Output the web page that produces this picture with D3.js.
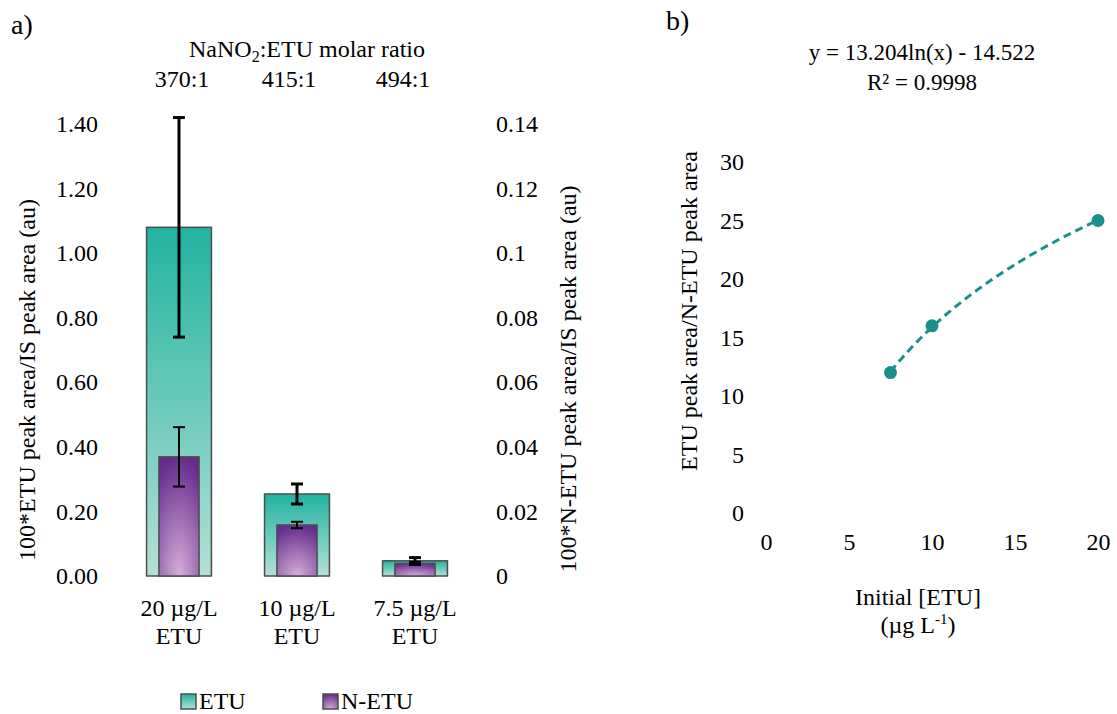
<!DOCTYPE html>
<html>
<head>
<meta charset="utf-8">
<script src="https://cdn.jsdelivr.net/npm/d3@7"></script>
<style>
  body { margin: 0; background: #fff; }
  text { font-family: "Liberation Serif", "Tinos", "Times New Roman", "DejaVu Serif", serif; fill: #000; }
</style>
</head>
<body>
<div id="chart"></div>
<script>
// ---- data (panel a) ----
const categories = ["20 µg/L", "10 µg/L", "7.5 µg/L"];
const ratios = ["370:1", "415:1", "494:1"];
const etuValues = [1.08, 0.254, 0.047];
const etuErrors = [0.34, 0.031, 0.01];
const netuValues = [0.0369, 0.0158, 0.0039];
const netuErrors = [0.0092, 0.001, 0.0005];
const leftTicks = [0, 0.2, 0.4, 0.6, 0.8, 1.0, 1.2, 1.4];
const rightTicks = [0, 0.02, 0.04, 0.06, 0.08, 0.1, 0.12, 0.14];

// ---- data (panel b) ----
const concX = [7.5, 10, 20];
const ratioY = [12.0, 16.0, 25.0];
const fitA = 13.204, fitB = -14.522; // y = a ln(x) + b
const bXTicks = [0, 5, 10, 15, 20];
const bYTicks = [0, 5, 10, 15, 20, 25, 30];

const FONT = '"Liberation Serif", "Tinos", "Times New Roman", "DejaVu Serif", serif';

const W = 1117, H = 714;
const svg = d3.select("#chart").append("svg")
    .attr("width", W).attr("height", H)
    .attr("font-family", FONT);

const defs = svg.append("defs");
const gEtu = defs.append("linearGradient").attr("id", "gEtu")
    .attr("x1", 0).attr("y1", 0).attr("x2", 0).attr("y2", 1);
gEtu.append("stop").attr("offset", "0%").attr("stop-color", "#21b3a1");
gEtu.append("stop").attr("offset", "100%").attr("stop-color", "#b3e0d6");

const gNetu = defs.append("radialGradient").attr("id", "gNetu")
    .attr("cx", "50%").attr("cy", "100%").attr("r", "100%");
gNetu.append("stop").attr("offset", "0%").attr("stop-color", "#d6aed8");
gNetu.append("stop").attr("offset", "100%").attr("stop-color", "#652c8d");

// ================= Panel a =================
const a = { left: 120, right: 474, top: 124, bottom: 576 };

const x = d3.scaleBand()
    .domain(categories)
    .range([a.left, a.right])
    .padding(0);

const yL = d3.scaleLinear().domain([0, 1.4]).range([a.bottom, a.top]);
const yR = d3.scaleLinear().domain([0, 0.14]).range([a.bottom, a.top]);

// left axis
const axL = svg.append("g")
    .attr("transform", `translate(${a.left - 14},0)`)
    .call(d3.axisLeft(yL).tickValues(leftTicks).tickFormat(d3.format(".2f")).tickSize(0).tickPadding(8));
axL.select(".domain").remove();
axL.attr("font-family", FONT).attr("font-size", 24);

// right axis
const axR = svg.append("g")
    .attr("transform", `translate(${a.right + 14},0)`)
    .call(d3.axisRight(yR).tickValues(rightTicks).tickFormat(d => d === 0 ? "0" : String(+d.toFixed(2))).tickSize(0).tickPadding(8));
axR.select(".domain").remove();
axR.attr("font-family", FONT).attr("font-size", 24);

// ETU bars
const etuW = x.bandwidth() * 0.55;
svg.selectAll(".etu")
    .data(categories)
    .enter().append("rect")
    .attr("class", "etu")
    .attr("x", (d) => x(d) + (x.bandwidth() - etuW) / 2)
    .attr("width", etuW)
    .attr("y", (d, i) => yL(etuValues[i]))
    .attr("height", (d, i) => a.bottom - yL(etuValues[i]))
    .attr("fill", "url(#gEtu)")
    .attr("stroke", "#4d4d4d")
    .attr("stroke-width", 1.5);

// N-ETU bars
const netuW = x.bandwidth() * 0.34;
svg.selectAll(".netu")
    .data(categories)
    .enter().append("rect")
    .attr("class", "netu")
    .attr("x", (d) => x(d) + (x.bandwidth() - netuW) / 2)
    .attr("width", netuW)
    .attr("y", (d, i) => yR(netuValues[i]))
    .attr("height", (d, i) => a.bottom - yR(netuValues[i]))
    .attr("fill", "url(#gNetu)")
    .attr("stroke", "#4d4d4d")
    .attr("stroke-width", 1.5);

// error bars
function errorBars(vals, errs, scale, sw) {
  const g = svg.append("g").attr("stroke", "#000").attr("stroke-width", sw);
  categories.forEach((c, i) => {
    const cx = x(c) + x.bandwidth() / 2;
    const y1 = scale(vals[i] + errs[i]), y2 = scale(vals[i] - errs[i]);
    g.append("line").attr("x1", cx).attr("x2", cx).attr("y1", y1).attr("y2", y2);
    g.append("line").attr("x1", cx - 6).attr("x2", cx + 6).attr("y1", y1).attr("y2", y1);
    g.append("line").attr("x1", cx - 6).attr("x2", cx + 6).attr("y1", y2).attr("y2", y2);
  });
}
errorBars(netuValues, netuErrors, yR, 2);
errorBars(etuValues, etuErrors, yL, 3);

// category labels
categories.forEach(c => {
  const t = svg.append("text")
      .attr("x", x(c) + x.bandwidth() / 2)
      .attr("text-anchor", "middle")
      .attr("font-size", 24);
  t.append("tspan").attr("x", x(c) + x.bandwidth() / 2).attr("y", 616).text(c);
  t.append("tspan").attr("x", x(c) + x.bandwidth() / 2).attr("y", 644).text("ETU");
});

// top titles
const ttl = svg.append("text")
    .attr("x", 307).attr("y", 57)
    .attr("text-anchor", "middle")
    .attr("font-size", 24);
ttl.append("tspan").text("NaNO");
ttl.append("tspan").attr("dy", 5).attr("font-size", 16).text("2");
ttl.append("tspan").attr("dy", -5).text(":ETU molar ratio");

const ratioX = [182, 289, 403];
ratios.forEach((r, i) => {
  svg.append("text")
      .attr("x", ratioX[i]).attr("y", 87)
      .attr("text-anchor", "middle")
      .attr("font-size", 24)
      .text(r);
});

// axis titles
svg.append("text")
    .attr("transform", "translate(35,380) rotate(-90)")
    .attr("text-anchor", "middle")
    .attr("font-size", 24)
    .text("100*ETU peak area/IS peak area (au)");

svg.append("text")
    .attr("transform", "translate(576,379) rotate(-90)")
    .attr("text-anchor", "middle")
    .attr("font-size", 24)
    .text("100*N-ETU peak area/IS peak area (au)");

svg.append("text").attr("x", 11).attr("y", 34)
    .attr("font-size", 28).text("a)");

// legend
const legend = [["ETU", "url(#gEtu)", 181], ["N-ETU", "url(#gNetu)", 323]];
legend.forEach(([name, fill, lx]) => {
  svg.append("rect").attr("x", lx).attr("y", 694).attr("width", 15).attr("height", 15)
      .attr("fill", fill).attr("stroke", "#4d4d4d").attr("stroke-width", 1.5);
  svg.append("text").attr("x", lx + 18).attr("y", 709)
      .attr("font-size", 24).text(name);
});

// ================= Panel b =================
const b = { left: 766, right: 1098, top: 162, bottom: 513 };
const xb = d3.scaleLinear().domain([0, 20]).range([b.left, b.right]);
const yb = d3.scaleLinear().domain([0, 30]).range([b.bottom, b.top]);

const axBX = svg.append("g")
    .attr("transform", `translate(0,${b.bottom + 20})`)
    .call(d3.axisBottom(xb).tickValues(bXTicks).tickSize(0).tickPadding(0));
axBX.select(".domain").remove();
axBX.attr("font-family", FONT).attr("font-size", 24);

const axBY = svg.append("g")
    .attr("transform", `translate(${b.left - 22},0)`)
    .call(d3.axisLeft(yb).tickValues(bYTicks).tickSize(0).tickPadding(0));
axBY.select(".domain").remove();
axBY.attr("font-family", FONT).attr("font-size", 24);

// log trendline from the fitted equation
const fitX = d3.range(7.5, 20.001, 0.25);
const line = d3.line().x(d => xb(d)).y(d => yb(fitA * Math.log(d) + fitB)).curve(d3.curveMonotoneX);
svg.append("path")
    .datum(fitX)
    .attr("d", line)
    .attr("fill", "none")
    .attr("stroke", "#1a8f8c")
    .attr("stroke-width", 3)
    .attr("stroke-dasharray", "8,5");

svg.selectAll(".pt")
    .data(concX)
    .enter().append("circle")
    .attr("class", "pt")
    .attr("cx", d => xb(d))
    .attr("cy", (d, i) => yb(ratioY[i]))
    .attr("r", 6.5)
    .attr("fill", "#1a8f8c");

svg.append("text").attr("x", 922).attr("y", 60).attr("text-anchor", "middle")
    .attr("font-size", 23).text("y = 13.204ln(x) - 14.522");
svg.append("text").attr("x", 922).attr("y", 90).attr("text-anchor", "middle")
    .attr("font-size", 23).text("R² = 0.9998");

svg.append("text")
    .attr("transform", "translate(697,311) rotate(-90)")
    .attr("text-anchor", "middle")
    .attr("font-size", 24)
    .text("ETU peak area/N-ETU peak area");

svg.append("text").attr("x", 918).attr("y", 605).attr("text-anchor", "middle")
    .attr("font-size", 24).text("Initial [ETU]");
const ul = svg.append("text").attr("x", 918).attr("y", 633).attr("text-anchor", "middle")
    .attr("font-size", 24);
ul.append("tspan").text("(µg L");
ul.append("tspan").attr("dy", -9).attr("font-size", 15).text("-1");
ul.append("tspan").attr("dy", 9).text(")");

svg.append("text").attr("x", 666).attr("y", 30)
    .attr("font-size", 28).text("b)");
</script>
</body>
</html>
